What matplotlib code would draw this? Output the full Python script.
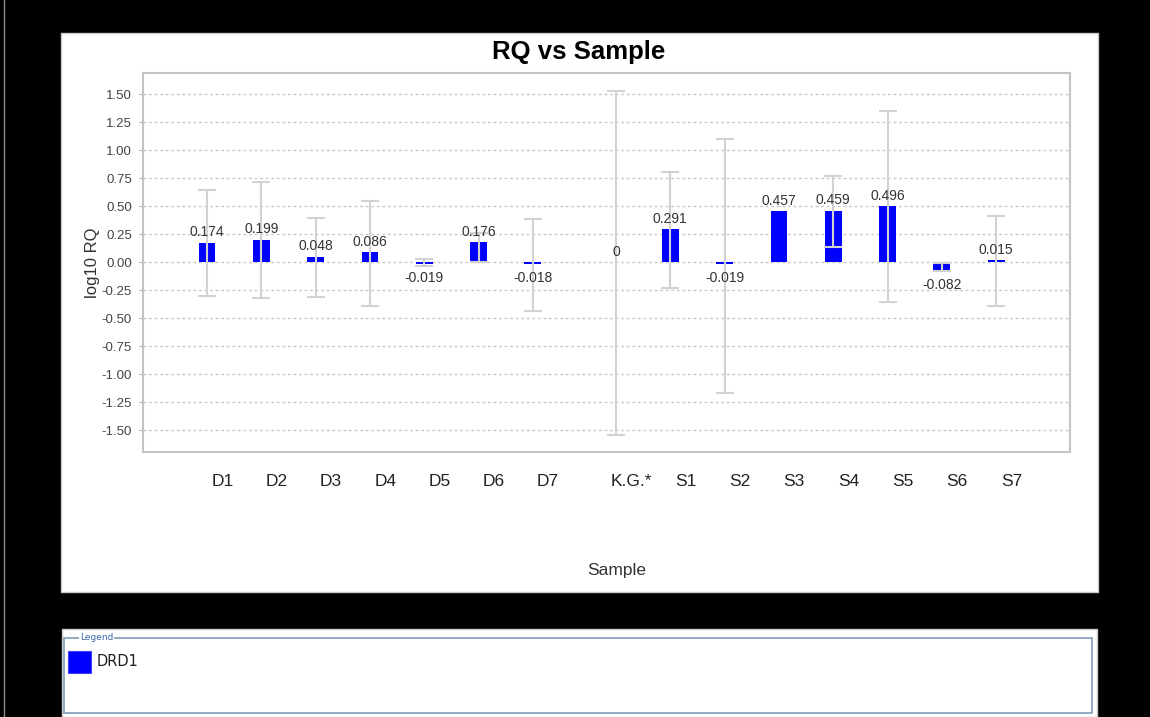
import numpy as np
import matplotlib
matplotlib.use('Agg')
import matplotlib.pyplot as plt
from matplotlib.patches import Rectangle
from matplotlib.lines import Line2D

plt.rcParams['font.family'] = ['Liberation Sans', 'DejaVu Sans']

# RQ results (log10) per sample, with min / max error limits
samples = ['D1', 'D2', 'D3', 'D4', 'D5', 'D6', 'D7', 'K.G.*',
           'S1', 'S2', 'S3', 'S4', 'S5', 'S6', 'S7']
log_rq = [0.174, 0.199, 0.048, 0.086, -0.019, 0.176, -0.018, 0,
          0.291, -0.019, 0.457, 0.459, 0.496, -0.082, 0.015]
rq_min = [-0.30, -0.32, -0.31, -0.39, -0.035, 0.0, -0.44, -1.54,
          -0.235, -1.165, np.nan, 0.137, -0.36, -0.082, -0.39]
rq_max = [0.64, 0.71, 0.39, 0.545, 0.03, 0.26, 0.38, 1.53,
          0.80, 1.10, np.nan, 0.77, 1.35, -0.005, 0.41]
target = 'DRD1'

W, H = 1150, 717
def fx(px):
    return px / W
def fy(py):
    return 1 - py / H

fig = plt.figure(figsize=(W / 100, H / 100), dpi=100, facecolor='black')

# white chart panel and legend panel
fig.add_artist(Rectangle((fx(61), fy(592)), fx(1098) - fx(61), fy(33) - fy(592),
                         transform=fig.transFigure, facecolor='white',
                         edgecolor='#c8c8c8', lw=1, zorder=0))
fig.add_artist(Rectangle((fx(62), fy(717)), fx(1097) - fx(62), fy(629) - fy(717),
                         transform=fig.transFigure, facecolor='white',
                         edgecolor='#c8c8c8', lw=1, zorder=0))
fig.add_artist(Line2D([fx(4), fx(4)], [0, 1], color='#8a8a8a', lw=1))

ax = fig.add_axes([fx(143), fy(452), fx(1070) - fx(143), fy(73) - fy(452)])
ax.set_facecolor('white')

vals = np.array(log_rq)
lo = np.array(rq_min)
hi = np.array(rq_max)
x = np.arange(len(samples), dtype=float)
x[7:] += 0.53  # extra gap before the calibrator

ax.bar(x, vals, width=0.31, color='#0000ff', lw=0, zorder=2)
ax.errorbar(x, vals, yerr=[vals - lo, hi - vals], fmt='none', ecolor='#d2d2d2',
            elinewidth=1.5, capsize=6.5, capthick=1.5, zorder=3)

for xi, v in zip(x, vals):
    txt = f'{v:g}'
    if v >= 0:
        ax.annotate(txt, (xi, v), xytext=(0, 4.5), textcoords='offset points',
                    ha='center', va='baseline', fontsize=10, color='#333333', zorder=4)
    else:
        ax.annotate(txt, (xi, v), xytext=(0, -5), textcoords='offset points',
                    ha='center', va='top', fontsize=10, color='#333333', zorder=4)

ax.set_xlim(-1.18, 15.89)
ax.set_ylim(-1.696, 1.6875)
ticks = np.arange(-1.5, 1.51, 0.25)
ax.set_yticks(ticks)
ax.set_yticklabels([f'{t:.2f}' for t in ticks])
ax.set_xticks(x + 0.28)
ax.set_xticklabels(samples)
ax.tick_params(axis='y', length=3, color='#b0b0b0', labelsize=9.5,
               labelcolor='#444444', pad=5)
ax.tick_params(axis='x', length=0, labelsize=12.5, labelcolor='#222222', pad=16)

ax.yaxis.grid(True, linestyle=(0, (2, 2)), color='#c8c8c8', lw=1)
ax.set_axisbelow(True)
for sp in ax.spines.values():
    sp.set_color('#c4c4c4')
    sp.set_linewidth(1.5)

fig.text(fx(579), fy(52), 'RQ vs Sample', ha='center', va='center',
         fontsize=18.5, fontweight='bold', color='black')
fig.text(fx(92), fy(263), 'log10 RQ', ha='center', va='center', rotation=90,
         fontsize=12, color='#333333')
fig.text(fx(617), fy(571), 'Sample', ha='center', va='center',
         fontsize=12.5, color='#333333')

# legend box
fig.add_artist(Rectangle((fx(64), fy(713)), fx(1092) - fx(64), fy(638) - fy(713),
                         transform=fig.transFigure, facecolor='none',
                         edgecolor='#7f9db9', lw=1.2, zorder=1))
fig.text(fx(80), fy(637), 'Legend', ha='left', va='center', fontsize=6.5,
         color='#3c68a8', family='DejaVu Sans',
         bbox=dict(facecolor='white', edgecolor='none', pad=0.5), zorder=2)
fig.add_artist(Rectangle((fx(68), fy(673)), fx(91) - fx(68), fy(651) - fy(673),
                         transform=fig.transFigure, facecolor='#0000ff',
                         edgecolor='#4040ff', lw=0.8, zorder=2))
fig.text(fx(97), fy(662), target, ha='left', va='center', fontsize=10.5,
         color='#222222', family='DejaVu Sans')

fig.savefig('out.png', dpi=100, facecolor='black')
